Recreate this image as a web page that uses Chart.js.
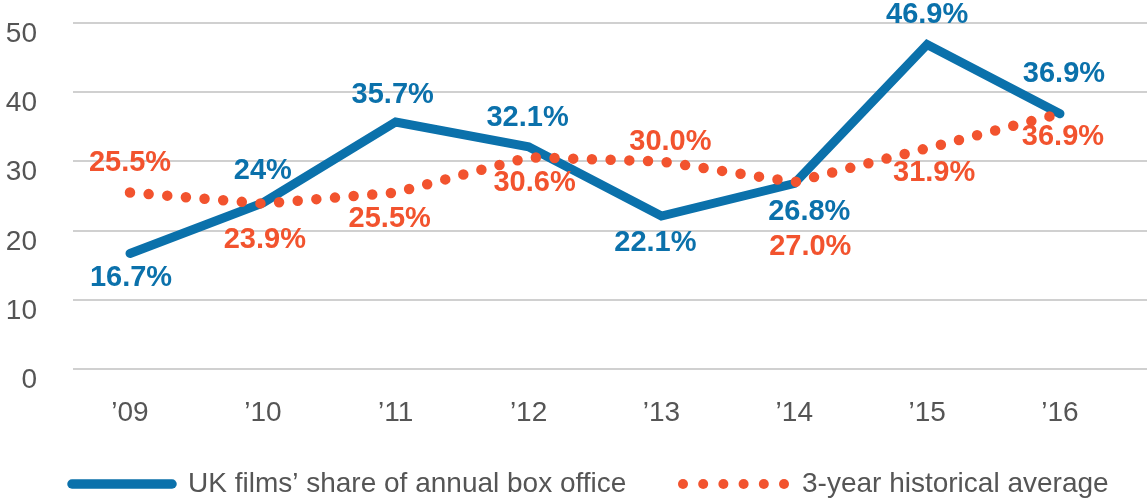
<!DOCTYPE html>
<html>
<head>
<meta charset="utf-8">
<script src="https://cdn.jsdelivr.net/npm/chart.js@4.4.1/dist/chart.umd.min.js"></script>
<style>
  html, body { margin: 0; padding: 0; background: #fff; }
  #wrap { position: relative; width: 1147px; height: 504px; }
</style>
</head>
<body>
<div id="wrap"><canvas id="chart"></canvas></div>
<script>
// ---- data ----
const years = ['’09', '’10', '’11', '’12', '’13', '’14', '’15', '’16'];
const ukShare = [16.7, 24, 35.7, 32.1, 22.1, 26.8, 46.9, 36.9];
const avg3yr = [25.5, 23.9, 25.5, 30.6, 30.0, 27.0, 31.9, 36.9];
const yTicks = [0, 10, 20, 30, 40, 50];
const seriesNames = ['UK films’ share of annual box office', '3-year historical average'];

const BLUE = '#0b71ab';
const ORANGE = '#f2532e';
const GREY = '#555555';
const FONT = '"Liberation Sans", Arial, Helvetica, sans-serif';

// label nudges (px) relative to each point, as placed in the original
const blueNudge = [[1, 25], [0, -32], [-3, -27], [-1, -29], [-6, 27], [15, 28], [0, -29], [4, -40]];
const orangeNudge = [[0, -30], [2, 36], [-6, 26], [6, 26], [9, -19], [16, 65], [7, 25], [3, 23]];

Chart.defaults.font.family = FONT;

const valueLabels = {
  id: 'valueLabels',
  afterDatasetsDraw(chart) {
    const { ctx } = chart;
    ctx.save();
    ctx.font = 'bold 29px ' + FONT;
    ctx.textAlign = 'center';
    ctx.textBaseline = 'middle';
    chart.data.datasets.forEach((ds, di) => {
      const meta = chart.getDatasetMeta(di);
      const nudge = di === 0 ? blueNudge : orangeNudge;
      ctx.fillStyle = ds.borderColor;
      meta.data.forEach((pt, i) => {
        const v = ds.data[i].y;
        const txt = (di === 0 ? String(v) : v.toFixed(1)) + '%';
        ctx.fillText(txt, pt.x + nudge[i][0], pt.y + nudge[i][1]);
      });
    });
    ctx.restore();
  }
};

const bottomLegend = {
  id: 'bottomLegend',
  afterDraw(chart) {
    const { ctx } = chart;
    ctx.save();
    // solid line sample
    ctx.strokeStyle = BLUE;
    ctx.lineWidth = 9.5;
    ctx.lineCap = 'round';
    ctx.beginPath();
    ctx.moveTo(72, 484);
    ctx.lineTo(172, 484);
    ctx.stroke();
    // dotted sample
    ctx.fillStyle = ORANGE;
    for (let k = 0; k < 6; k++) {
      ctx.beginPath();
      ctx.arc(683 + k * 20.2, 484, 5, 0, Math.PI * 2);
      ctx.fill();
    }
    ctx.fillStyle = GREY;
    ctx.font = '28px ' + FONT;
    ctx.textBaseline = 'alphabetic';
    ctx.textAlign = 'left';
    ctx.fillText(seriesNames[0], 188, 492);
    ctx.fillText(seriesNames[1], 802, 492);
    ctx.restore();
  }
};

new Chart(document.getElementById('chart'), {
  type: 'line',
  data: {
    datasets: [
      {
        label: seriesNames[0],
        data: ukShare.map((v, i) => ({ x: i, y: v })),
        borderColor: BLUE,
        borderWidth: 9,
        borderCapStyle: 'round',
        borderJoinStyle: 'miter',
        pointRadius: 0,
        tension: 0,
        fill: false,
        order: 2
      },
      {
        label: seriesNames[1],
        data: avg3yr.map((v, i) => ({ x: i, y: v })),
        borderColor: ORANGE,
        borderWidth: 10.5,
        borderCapStyle: 'round',
        borderDash: [0, 18.7],
        pointRadius: 0,
        tension: 0,
        fill: false,
        order: 1
      }
    ]
  },
  options: {
    responsive: true,
    maintainAspectRatio: false,
    animation: false,
    layout: { padding: { top: 23, right: 0, bottom: 0, left: 0 } },
    plugins: { legend: { display: false }, tooltip: { enabled: false } },
    scales: {
      x: {
        type: 'linear',
        min: -0.429,
        max: 7.655,
        afterBuildTicks: axis => { axis.ticks = years.map((_, i) => ({ value: i })); },
        afterFit: s => { s.height = 135; s.paddingLeft = 0; s.paddingRight = 0; },
        grid: { display: false, drawTicks: false },
        border: { display: false },
        ticks: {
          autoSkip: false, maxRotation: 0,
          padding: 27, color: GREY,
          font: { size: 28 },
          callback: v => years[v]
        }
      },
      y: {
        min: 0,
        max: 50,
        afterBuildTicks: axis => { axis.ticks = yTicks.map(v => ({ value: v })); },
        afterFit: s => { s.width = 73; s.paddingTop = 0; s.paddingBottom = 0; },
        grid: { color: '#d0d0d0', lineWidth: 2, drawTicks: false },
        border: { display: false },
        ticks: {
          padding: 36, color: GREY,
          font: { size: 28, lineHeight: 0.8 },
          callback: v => ['', String(v)]
        }
      }
    }
  },
  plugins: [valueLabels, bottomLegend]
});
</script>
</body>
</html>
